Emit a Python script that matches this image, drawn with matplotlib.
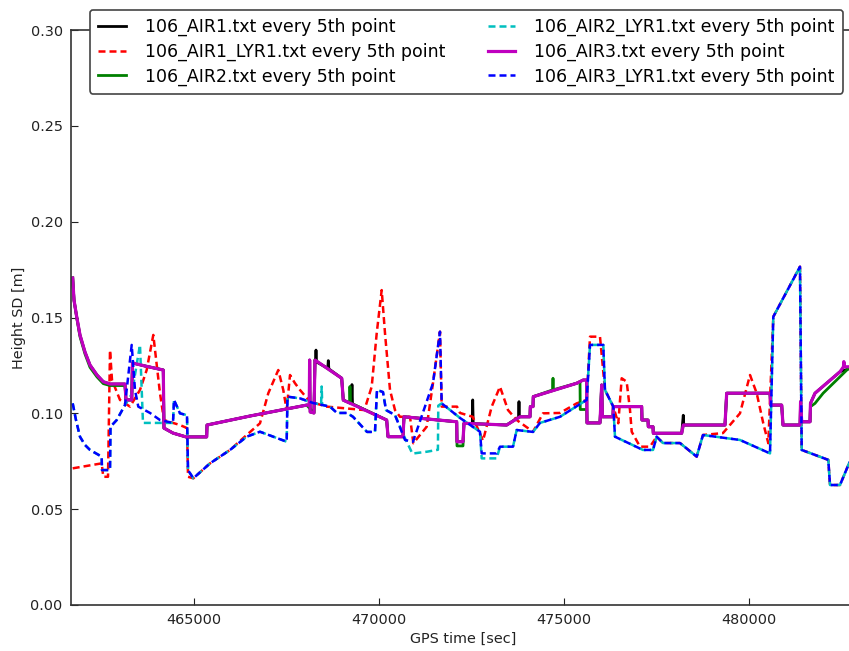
import matplotlib
matplotlib.use("Agg")
import matplotlib.pyplot as plt
from matplotlib.ticker import FormatStrFormatter, ScalarFormatter

# GPS time [s] and height standard deviation [m], every 5th point of each file

air3_t = [461711, 461746, 461819, 461908, 462043, 462179, 462368, 462538, 462720, 463125,
          463152, 463307, 463328, 463666, 464161, 464180, 464424, 464775, 465335, 465344,
          466507, 468040, 468110, 468120, 468135, 468237, 468265, 468987, 469030, 470204,
          470240, 470645, 470673, 472098, 472106, 472268, 472295, 473450, 473810, 474081,
          474090, 474162, 474170, 475344, 475522, 475614, 475623, 475974, 476020, 476040,
          476326, 476334, 477102, 477110, 477273, 477281, 477408, 477416, 478184, 478227,
          479355, 479401, 480573, 480592, 480889, 480924, 481384, 481400, 481430, 481655,
          481668, 481790, 482466, 482560, 482570, 482590, 482872]
air3_h = [0.1706, 0.1591, 0.1504, 0.1409, 0.1320, 0.1252, 0.1200, 0.1165, 0.1153, 0.1153,
          0.1070, 0.1070, 0.1263, 0.1247, 0.1226, 0.0923, 0.0897, 0.0877, 0.0877, 0.0939,
          0.0986, 0.1043, 0.1043, 0.1278, 0.1007, 0.1002, 0.1278, 0.1183, 0.1069, 0.0965,
          0.0878, 0.0878, 0.0982, 0.0956, 0.0852, 0.0852, 0.0948, 0.0939, 0.0982, 0.0982,
          0.1035, 0.1035, 0.1087, 0.1157, 0.1174, 0.1174, 0.0950, 0.0950, 0.1148, 0.0982,
          0.0982, 0.1035, 0.1035, 0.0965, 0.0965, 0.0930, 0.0930, 0.0896, 0.0896, 0.0939,
          0.0939, 0.1105, 0.1105, 0.1043, 0.1043, 0.0939, 0.0939, 0.1061, 0.0956, 0.0956,
          0.1052, 0.1105, 0.1217, 0.1243, 0.1270, 0.1243, 0.1243]

air1_t = [461711, 461746, 461819, 461908, 462043, 462179, 462368, 462538, 462720, 463125,
          463152, 463307, 463328, 463666, 464161, 464180, 464424, 464775, 465335, 465344,
          466507, 468040, 468110, 468120, 468135, 468237, 468265, 468280, 468292, 468305,
          468610, 468625, 468640, 468987, 469030, 469250, 469265, 469280, 470204, 470240,
          470645, 470673, 472098, 472106, 472268, 472295, 472520, 472531, 472545, 473450,
          473770, 473783, 473795, 473810, 474081, 474090, 474162, 474170, 475344, 475522,
          475614, 475623, 475974, 476020, 476040, 476326, 476334, 477102, 477110, 477273,
          477281, 477408, 477416, 478184, 478227, 478240, 479355, 479401, 480573, 480592,
          480889, 480924, 481384, 481400, 481430, 481655, 481668, 481790, 482466, 482872]
air1_h = [0.1706, 0.1591, 0.1504, 0.1409, 0.1320, 0.1252, 0.1200, 0.1165, 0.1153, 0.1153,
          0.1070, 0.1070, 0.1263, 0.1247, 0.1226, 0.0923, 0.0897, 0.0877, 0.0877, 0.0939,
          0.0986, 0.1043, 0.1043, 0.1278, 0.1007, 0.1002, 0.1278, 0.1270, 0.1330, 0.1268,
          0.1235, 0.1275, 0.1232, 0.1183, 0.1069, 0.1050, 0.1150, 0.1049, 0.0965, 0.0878,
          0.0878, 0.0982, 0.0956, 0.0852, 0.0852, 0.0948, 0.0946, 0.1070, 0.0946, 0.0939,
          0.0980, 0.1061, 0.0981, 0.0982, 0.0982, 0.1035, 0.1035, 0.1087, 0.1157, 0.1174,
          0.1174, 0.0950, 0.0950, 0.1148, 0.0982, 0.0982, 0.1035, 0.1035, 0.0965, 0.0965,
          0.0930, 0.0930, 0.0896, 0.0896, 0.0990, 0.0939, 0.0939, 0.1105, 0.1105, 0.1043,
          0.1043, 0.0939, 0.0939, 0.1061, 0.0956, 0.0956, 0.1052, 0.1105, 0.1217, 0.1243]

air2_t = [461711, 461746, 461819, 461908, 462043, 462179, 462368, 462538, 462720, 463125,
          463152, 463307, 463328, 463666, 464161, 464180, 464424, 464775, 465335, 465344,
          466507, 468040, 468237, 468265, 468987, 469030, 469200, 469210, 469225, 470204,
          470240, 470645, 470673, 472098, 472106, 472268, 472295, 473450, 473810, 474081,
          474090, 474162, 474170, 474690, 474703, 474715, 475344, 475433, 475440, 475614,
          475623, 475974, 476020, 476040, 476326, 476334, 477102, 477110, 477273, 477281,
          477408, 477416, 478184, 478227, 479355, 479401, 480573, 480592, 480889, 480924,
          481384, 481430, 481655, 481668, 481790, 482010, 482466, 482710, 482872]
air2_h = [0.1706, 0.1591, 0.1500, 0.1400, 0.1310, 0.1240, 0.1190, 0.1155, 0.1145, 0.1145,
          0.1070, 0.1070, 0.1263, 0.1247, 0.1226, 0.0923, 0.0897, 0.0877, 0.0877, 0.0939,
          0.0986, 0.1043, 0.1002, 0.1278, 0.1183, 0.1069, 0.1055, 0.1140, 0.1054, 0.0965,
          0.0878, 0.0878, 0.0982, 0.0956, 0.0830, 0.0830, 0.0948, 0.0939, 0.0982, 0.0982,
          0.1035, 0.1035, 0.1087, 0.1122, 0.1183, 0.1123, 0.1157, 0.1165, 0.1020, 0.1020,
          0.0950, 0.0950, 0.1148, 0.0982, 0.0982, 0.1035, 0.1035, 0.0965, 0.0965, 0.0930,
          0.0930, 0.0896, 0.0896, 0.0939, 0.0939, 0.1105, 0.1105, 0.1043, 0.1043, 0.0939,
          0.0939, 0.0956, 0.0956, 0.1035, 0.1052, 0.1105, 0.1191, 0.1237, 0.1243]

air3_lyr1_t = [461711, 461800, 461908, 462043, 462179, 462495, 462503, 462720, 462733, 462901,
               463125, 463307, 463396, 463485, 463802, 464072, 464424, 464451, 464613, 464803,
               464830, 464973, 465425, 465966, 466417, 466777, 467499, 467521, 467859, 468211,
               468671, 468860, 469131, 469293, 469672, 469888, 469942, 470104, 470186, 470429,
               470700, 470916, 471457, 471646, 471692, 472187, 472728, 472774, 473180, 473269,
               473621, 473721, 474162, 474351, 474892, 475614, 475704, 476063, 476109, 476334,
               476380, 477137, 477408, 477508, 477678, 478138, 478590, 478760, 479761, 480573,
               480662, 481384, 481430, 482150, 482196, 482466, 482710, 482872]
air3_lyr1_h = [0.1052, 0.0965, 0.0878, 0.0835, 0.0809, 0.0774, 0.0704, 0.0704, 0.0930, 0.0965,
               0.1043, 0.1357, 0.1122, 0.1035, 0.1002, 0.0965, 0.0950, 0.1070, 0.1000, 0.0990,
               0.0704, 0.0661, 0.0739, 0.0809, 0.0878, 0.0904, 0.0852, 0.1087, 0.1078, 0.1054,
               0.1035, 0.1002, 0.1002, 0.0982, 0.0903, 0.0903, 0.1122, 0.1111, 0.1017, 0.0991,
               0.0861, 0.0852, 0.1158, 0.1426, 0.1052, 0.0976, 0.0904, 0.0791, 0.0791, 0.0826,
               0.0826, 0.0913, 0.0903, 0.0950, 0.0982, 0.1070, 0.1357, 0.1357, 0.1122, 0.1035,
               0.0878, 0.0809, 0.0809, 0.0878, 0.0845, 0.0845, 0.0774, 0.0887, 0.0861, 0.0791,
               0.1504, 0.1765, 0.0809, 0.0757, 0.0626, 0.0626, 0.0739, 0.0790]

air2_lyr1_t = [461711, 461800, 461908, 462043, 462179, 462495, 462503, 462720, 462733, 462901,
               463125, 463307, 463531, 463612, 464343, 464424, 464451, 464613, 464803,
               464830, 464973, 465425, 465966, 466417, 466777, 467499, 467521, 467859, 468211,
               468430, 468446, 468460, 468671, 468860, 469131, 469293, 469672, 469888, 469942,
               470104, 470186, 470429, 470700, 470900, 471300, 471590, 471600, 471692, 472187,
               472728, 472774, 473180, 473269, 473621, 473721, 474162, 474351, 474892, 475614,
               475704, 476063, 476109, 476334, 476380, 477137, 477408, 477508, 477678, 478138,
               478590, 478760, 479761, 480573, 480662, 481384, 481430, 482150, 482196, 482466,
               482710, 482872]
air2_lyr1_h = [0.1052, 0.0965, 0.0878, 0.0835, 0.0809, 0.0774, 0.0704, 0.0704, 0.0930, 0.0965,
               0.1043, 0.1100, 0.1357, 0.0950, 0.0950, 0.0950, 0.1070, 0.1000, 0.0990,
               0.0704, 0.0661, 0.0739, 0.0809, 0.0878, 0.0904, 0.0852, 0.1087, 0.1078, 0.1054,
               0.1045, 0.1140, 0.1044, 0.1035, 0.1002, 0.1002, 0.0982, 0.0903, 0.0903, 0.1122,
               0.1111, 0.1017, 0.0991, 0.0870, 0.0790, 0.0800, 0.0810, 0.1040, 0.1052, 0.0976,
               0.0904, 0.0765, 0.0765, 0.0826, 0.0826, 0.0913, 0.0903, 0.0950, 0.0982, 0.1070,
               0.1357, 0.1357, 0.1122, 0.1035, 0.0878, 0.0809, 0.0809, 0.0878, 0.0845, 0.0845,
               0.0774, 0.0887, 0.0861, 0.0791, 0.1504, 0.1765, 0.0809, 0.0757, 0.0626, 0.0626,
               0.0739, 0.0790]

air1_lyr1_t = [461711, 462495, 462538, 462666, 462720, 462774, 462990, 463261, 463531, 463712,
               463891, 464072, 464180, 464424, 464613, 464803, 464830, 464973, 465425, 465966,
               466417, 466777, 467002, 467272, 467407, 467499, 467589, 467724, 467859, 468130,
               468581, 469600, 469799, 469934, 470069, 470159, 470294, 470429, 470564, 470835,
               470925, 471286, 471457, 471646, 471692, 472106, 472187, 472531, 472647, 472809,
               473045, 473269, 473486, 473721, 474162, 474432, 474892, 475344, 475614, 475704,
               475974, 476109, 476334, 476469, 476561, 476696, 476786, 476832, 477056, 477326,
               477508, 477678, 478138, 478590, 478760, 479301, 479761, 480032, 480213, 480391,
               480527, 480662, 481384, 481430, 482150, 482196, 482466, 482710, 482872]
air1_lyr1_h = [0.0713, 0.0739, 0.0669, 0.0669, 0.1330, 0.1174, 0.1070, 0.1035, 0.1122, 0.1226,
               0.1409, 0.1105, 0.0965, 0.0950, 0.0939, 0.0923, 0.0669, 0.0661, 0.0739, 0.0809,
               0.0887, 0.0948, 0.1105, 0.1226, 0.1122, 0.1017, 0.1200, 0.1157, 0.1122, 0.1061,
               0.1035, 0.1017, 0.1139, 0.1417, 0.1643, 0.1417, 0.1122, 0.1017, 0.0982, 0.0982,
               0.0844, 0.0930, 0.1158, 0.1426, 0.1035, 0.1035, 0.1002, 0.0982, 0.0930, 0.0857,
               0.1035, 0.1139, 0.1017, 0.0965, 0.0904, 0.1000, 0.1002, 0.1052, 0.1070, 0.1400,
               0.1400, 0.1122, 0.1035, 0.0948, 0.1183, 0.1165, 0.1017, 0.0904, 0.0826, 0.0826,
               0.0878, 0.0845, 0.0845, 0.0774, 0.0887, 0.0897, 0.1000, 0.1200, 0.1105, 0.0948,
               0.0844, 0.1504, 0.1765, 0.0809, 0.0757, 0.0626, 0.0626, 0.0739, 0.0790]

labels = ["106_AIR1.txt every 5th point", "106_AIR1_LYR1.txt every 5th point",
          "106_AIR2.txt every 5th point", "106_AIR2_LYR1.txt every 5th point",
          "106_AIR3.txt every 5th point", "106_AIR3_LYR1.txt every 5th point"]

x_ticks = [465000, 470000, 475000, 480000]
y_ticks = [0.00, 0.05, 0.10, 0.15, 0.20, 0.25, 0.30]

fig = plt.figure(figsize=(8.49, 6.51), dpi=100)
fig.patch.set_facecolor("white")
# axes runs a little past the right edge of the canvas
ax = fig.add_axes([71 / 849, 46 / 651, 784 / 849, 575 / 651])

dash = (0, (2.8, 1.6))
solid_lw = 2.0
dash_lw = 1.8

ax.plot(air1_t, air1_h, color="k", lw=solid_lw, label=labels[0])
ax.plot(air1_lyr1_t, air1_lyr1_h, color="r", lw=dash_lw, ls=dash, label=labels[1])
ax.plot(air2_t, air2_h, color="g", lw=solid_lw, label=labels[2])
ax.plot(air2_lyr1_t, air2_lyr1_h, color="c", lw=dash_lw, ls=dash, label=labels[3])
ax.plot(air3_t, air3_h, color="m", lw=solid_lw + 0.3, label=labels[4])
ax.plot(air3_lyr1_t, air3_lyr1_h, color="b", lw=dash_lw, ls=dash, label=labels[5])

ax.set_xlim(461665, 482872)
ax.set_ylim(0, 0.30)
ax.set_xticks(x_ticks)
ax.set_yticks(y_ticks)
fmt = ScalarFormatter(useOffset=False)
fmt.set_scientific(False)
ax.xaxis.set_major_formatter(fmt)
ax.yaxis.set_major_formatter(FormatStrFormatter("%.2f"))
ax.tick_params(direction="in", top=True, right=False, length=5, width=0.8,
               labelsize=10.4, pad=6, colors="#222222")
for sp in ax.spines.values():
    sp.set_linewidth(1.2)
    sp.set_color("#333333")

ax.set_xlabel("GPS time [sec]", fontsize=10.4, color="#222222", labelpad=3)
ax.set_ylabel("Height SD [m]", fontsize=10.4, color="#222222", labelpad=3)

leg = ax.legend(loc="upper right", bbox_to_anchor=(843 / 849, 641 / 651),
                bbox_transform=fig.transFigure, ncol=2, fontsize=12.5,
                handlelength=1.6, handletextpad=1.1, columnspacing=2.45,
                labelspacing=0.37, borderpad=0.47, borderaxespad=0,
                fancybox=True, framealpha=1)
leg.get_frame().set_edgecolor("#444444")
leg.get_frame().set_linewidth(1.2)

fig.savefig("out.png", dpi=100, facecolor="white")
